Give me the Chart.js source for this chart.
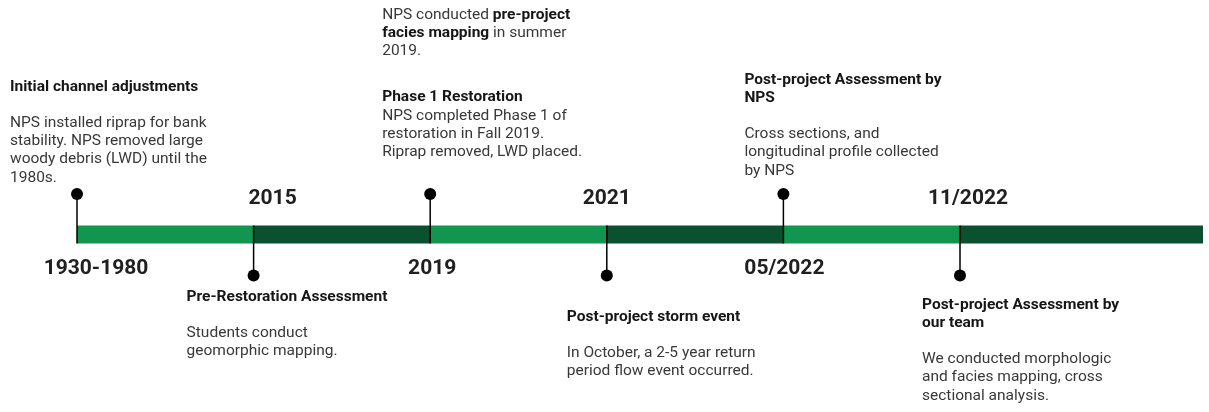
<!DOCTYPE html>
<html>
<head>
<meta charset="utf-8">
<script src="https://cdn.jsdelivr.net/npm/chart.js@4"></script>
<style>
  html,body{margin:0;padding:0;background:#fff;}
  #wrap{width:1209px;height:412px;}
</style>
</head>
<body>
<div id="wrap"><canvas id="c" width="1209" height="412"></canvas></div>
<script>
// ---- data ----
const eventLabels = ['1930-1980', '2015', '2019', '2021', '05/2022', '11/2022'];
const eventIndex = [0, 1, 2, 3, 4, 5];
const eventSide = [1, -1, 1, -1, 1, -1]; // 1 = note above the bar, -1 = below
const segmentStart = [0, 1, 2, 3, 4, 5];
const segmentEnd = [1, 2, 3, 4, 5, 6.376];
const noteParagraphs = [
  [['**Initial channel adjustments**'],
   ['NPS installed riprap for bank', 'stability. NPS removed large', 'woody debris (LWD) until the', '1980s.']],
  [['**Pre-Restoration Assessment**'],
   ['Students conduct', 'geomorphic mapping.']],
  [['NPS conducted **pre-project**', '**facies mapping** in summer', '2019.'],
   ['**Phase 1 Restoration**', 'NPS completed Phase 1 of', 'restoration in Fall 2019.', 'Riprap removed, LWD placed.']],
  [['**Post-project storm event**'],
   ['In October, a 2-5 year return', 'period flow event occurred.']],
  [['**Post-project Assessment by**', '**NPS**'],
   ['Cross sections, and', 'longitudinal profile collected', 'by NPS']],
  [['**Post-project Assessment by**', '**our team**'],
   ['We conducted morphologic', 'and facies mapping, cross', 'sectional analysis.']]
];

// ---- style / layout ----
const LIGHT = '#12954f', DARK = '#0b5130';
const BAR_Y = 234.5, BAR_W = 18;
const DOT_UP = 194, DOT_DOWN = 275.5;
const noteDX = [-67, -67, -48, -40, -39, -38];
const noteTop = [87, 297, 15, 317, 80, 305];
const paraGap = [36, 36, 46, 36, 36, 36];
const LINE_H = 18.3;
const NOTE_FONT = 15.5;
const labelDX = [19, 19, 2, 0, 1, 8];
const LABEL_UP_Y = 198.5, LABEL_DOWN_Y = 268.5;

const datasets = [];
eventIndex.forEach((v, i) => {
  const up = eventSide[i] === 1;
  datasets.push({
    type: 'line',
    order: 0,
    data: [{x: v, y: up ? BAR_Y + BAR_W / 2 : BAR_Y - BAR_W / 2}, {x: v, y: up ? DOT_UP : DOT_DOWN}],
    borderColor: '#000',
    borderWidth: 1.5,
    pointRadius: [0, 6],
    pointBackgroundColor: '#000',
    pointBorderWidth: 0,
    pointHoverRadius: [0, 6],
    clip: false
  });
});
segmentStart.forEach((s, i) => {
  datasets.push({
    type: 'line',
    order: 1,
    data: [{x: s, y: BAR_Y}, {x: segmentEnd[i], y: BAR_Y}],
    borderColor: i % 2 === 0 ? LIGHT : DARK,
    borderWidth: BAR_W,
    borderCapStyle: 'butt',
    pointRadius: 0,
    pointHoverRadius: 0,
    clip: false
  });
});

function drawRuns(ctx, text, x, y, bodyColor) {
  const parts = text.split('**');
  let cx = x;
  parts.forEach((p, k) => {
    if (!p) return;
    const bold = k % 2 === 1;
    ctx.font = (bold ? '700 ' : '400 ') + NOTE_FONT + 'px Roboto';
    ctx.fillStyle = bold ? '#161616' : bodyColor;
    ctx.fillText(p, cx, y);
    cx += ctx.measureText(p).width;
  });
}

const textPlugin = {
  id: 'timelineText',
  afterDatasetsDraw(chart) {
    const ctx = chart.ctx;
    const xs = chart.scales.x, ys = chart.scales.y;
    ctx.save();
    ctx.textBaseline = 'middle';
    eventIndex.forEach((v, i) => {
      const px = xs.getPixelForValue(v);
      // year label on opposite side
      ctx.font = '700 21px Roboto';
      ctx.fillStyle = '#202020';
      ctx.textAlign = 'center';
      const ly = eventSide[i] === 1 ? LABEL_DOWN_Y : LABEL_UP_Y;
      ctx.fillText(eventLabels[i], px + labelDX[i], ys.getPixelForValue(ly));
      // note
      ctx.textAlign = 'left';
      let y = noteTop[i];
      noteParagraphs[i].forEach((para, pi) => {
        if (pi > 0) y += paraGap[i] - LINE_H;
        para.forEach(line => {
          drawRuns(ctx, line, px + noteDX[i], ys.getPixelForValue(y), '#383838');
          y += LINE_H;
        });
      });
    });
    ctx.restore();
  }
};

function build() {
  new Chart(document.getElementById('c'), {
    type: 'line',
    data: {datasets},
    options: {
      responsive: false,
      animation: false,
      events: [],
      layout: {padding: 0, autoPadding: false},
      plugins: {legend: {display: false}, tooltip: {enabled: false}},
      scales: {
        x: {type: 'linear', display: false, min: -77 / 176.6, max: (1209 - 77) / 176.6},
        y: {type: 'linear', display: false, min: 0, max: 412, reverse: true}
      }
    },
    plugins: [textPlugin]
  });
}
Promise.all([
  document.fonts.load('400 15px Roboto'),
  document.fonts.load('700 15px Roboto'),
  document.fonts.load('700 21px Roboto')
]).then(build, build);
</script>
</body>
</html>
